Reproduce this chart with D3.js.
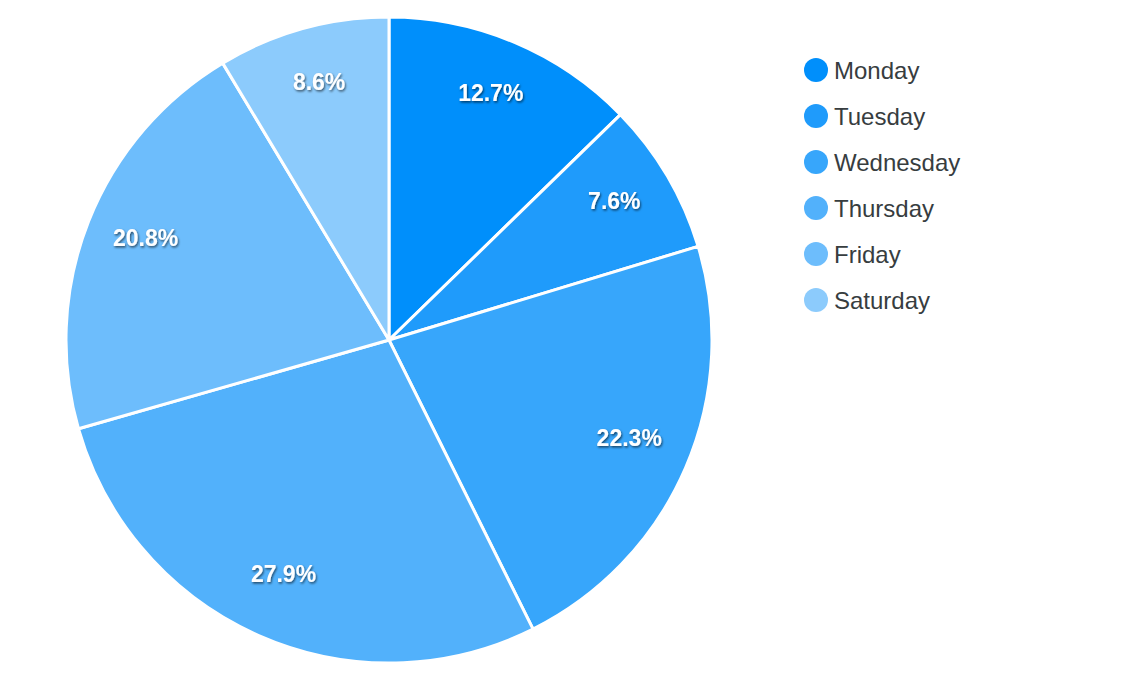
<!DOCTYPE html>
<html><head><meta charset="utf-8">
<script src="https://cdn.jsdelivr.net/npm/d3@7"></script>
<style>body{margin:0;background:#fff;}svg{display:block;}</style>
</head><body>
<svg id="c" width="1124" height="698"></svg>
<script>
const categories = ["Monday","Tuesday","Wednesday","Thursday","Friday","Saturday"];
const values = [12.7, 7.6, 22.3, 27.9, 20.8, 8.6];
const colors = ["#008ffb","#1f9bfb","#37a6fb","#52b1fb","#6dbdfc","#8ccbfc"];

const svg = d3.select("#c");
const cx = 389, cy = 340, R = 323;
const defs = svg.append("defs");
const f = defs.append("filter").attr("id","ds").attr("x","-20%").attr("y","-30%").attr("width","140%").attr("height","170%");
f.append("feDropShadow").attr("dx",1).attr("dy",1.5).attr("stdDeviation",1.2).attr("flood-color","#000").attr("flood-opacity",0.6);

const pie = d3.pie().sort(null).value(d => d)(values);
const arc = d3.arc().innerRadius(0).outerRadius(R);
const labelArc = d3.arc().innerRadius(R*0.81).outerRadius(R*0.81);
const g = svg.append("g").attr("transform", `translate(${cx},${cy})`);
g.selectAll("path").data(pie).join("path")
  .attr("d", arc).attr("fill", (d,i) => colors[i])
  .attr("stroke", "#fff").attr("stroke-width", 3).attr("stroke-linejoin","round");
g.selectAll("text").data(pie).join("text")
  .attr("transform", d => `translate(${labelArc.centroid(d)})`)
  .attr("text-anchor","middle").attr("dy","0.1em")
  .attr("fill","#fff").attr("font-family","Liberation Sans, Arial, sans-serif")
  .attr("font-weight","bold").attr("font-size",23).attr("filter","url(#ds)")
  .text(d => d.data.toFixed(1) + "%");

const leg = svg.append("g");
const items = leg.selectAll("g").data(categories).join("g")
  .attr("transform", (d,i) => `translate(816,${70 + i*46})`);
items.append("circle").attr("r", 12).attr("fill", (d,i) => colors[i]);
items.append("text").attr("x", 18).attr("dy","0.36em")
  .attr("font-family","Liberation Sans, Arial, sans-serif").attr("font-size",24)
  .attr("fill","#373d3f").text(d => d);
</script>
</body></html>
